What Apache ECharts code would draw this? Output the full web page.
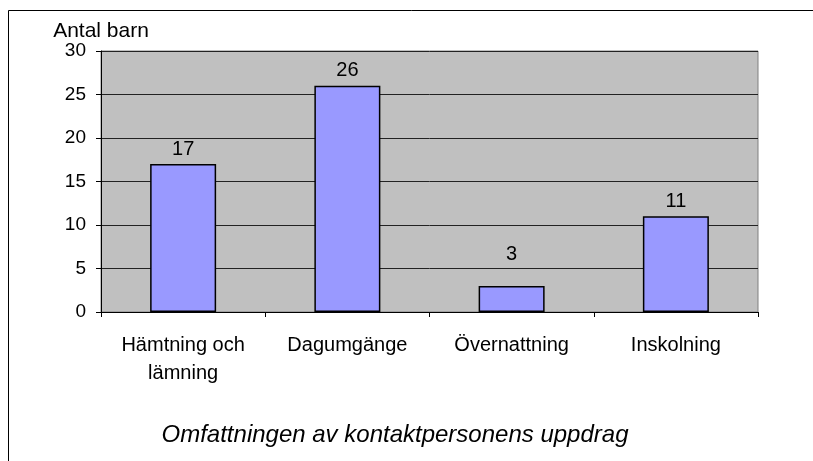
<!DOCTYPE html>
<html>
<head>
<meta charset="utf-8">
<script src="https://cdn.jsdelivr.net/npm/echarts@6/dist/echarts.min.js"></script>
<style>
  html, body { margin: 0; padding: 0; background: #fff; }
  #chart { width: 813px; height: 461px; }
</style>
</head>
<body>
<div id="chart"></div>
<script>
// data
const categories = ['Hämtning och\nlämning', 'Dagumgänge', 'Övernattning', 'Inskolning'];
const antalBarn = [17, 26, 3, 11];
const yTicks = [0, 5, 10, 15, 20, 25, 30];

let chart = echarts.init(document.getElementById('chart'));
let option = {
  backgroundColor: '#fff',
  animation: false,
  textStyle: { fontFamily: 'Liberation Sans, Arial, sans-serif', color: '#000' },
  title: {
    text: 'Omfattningen av kontaktpersonens uppdrag',
    left: 390,
    top: 418,
    textAlign: 'center',
    textStyle: {
      color: '#000',
      fontSize: 24,
      fontStyle: 'italic',
      fontWeight: 'normal',
      fontFamily: 'Liberation Sans, Arial, sans-serif'
    }
  },
  // yttre ram, avskuren till höger och nedtill som i förlagan
  graphic: [
    {
      type: 'rect',
      shape: { x: 8.5, y: 10.5, width: 900, height: 600 },
      style: { fill: 'none', stroke: '#000', lineWidth: 1 },
      silent: true
    }
  ],
  grid: {
    left: 101,
    right: 55,
    top: 51,
    bottom: 149,
    show: true,
    backgroundColor: '#c0c0c0',
    borderColor: '#808080',
    borderWidth: 1
  },
  xAxis: {
    type: 'category',
    data: categories,
    axisLine: { lineStyle: { color: '#000', width: 1 } },
    axisTick: { show: true, alignWithLabel: false, length: 5, lineStyle: { color: '#000' } },
    axisLabel: {
      color: '#000',
      fontSize: 20,
      lineHeight: 28,
      margin: 19,
      interval: 0
    }
  },
  yAxis: {
    type: 'value',
    min: 0,
    max: 30,
    interval: 5,
    name: 'Antal barn',
    nameLocation: 'end',
    nameGap: 20,
    nameTextStyle: { color: '#000', fontSize: 21, align: 'center', verticalAlign: 'middle' },
    axisLine: { show: true, lineStyle: { color: '#000', width: 1 } },
    axisTick: { show: true, length: 5, lineStyle: { color: '#000' } },
    axisLabel: {
      color: '#000',
      fontSize: 19,
      margin: 15,
      formatter: v => (yTicks.includes(v) ? String(v) : '')
    },
    splitLine: { show: true, lineStyle: { color: '#222', width: 1 } }
  },
  series: [
    {
      name: 'Antal barn',
      type: 'bar',
      // etiketten för den låga stapeln sitter högre upp i förlagan
      data: antalBarn.map(v => (v < 5 ? { value: v, label: { distance: 21 } } : v)),
      barWidth: 66,
      itemStyle: { color: '#9999ff', borderColor: '#000', borderWidth: 1.5 },
      label: {
        show: true,
        position: 'top',
        distance: 5,
        color: '#000',
        fontSize: 20
      }
    }
  ]
};
chart.setOption(option);
</script>
</body>
</html>
